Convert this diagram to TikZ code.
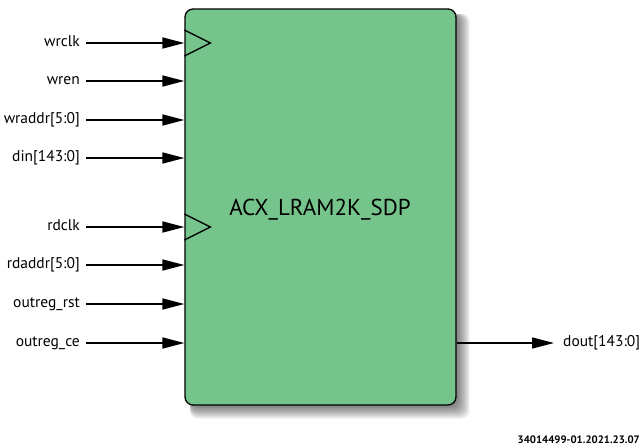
\documentclass[tikz,border=0pt]{standalone}
\usepackage{fontspec}
\setmainfont{PT Sans}
\usetikzlibrary{arrows.meta, positioning, calc}
\definecolor{ramgreen}{RGB}{117,196,139}
\tikzset{
  pinlabel/.style={font=\fontsize{15.5}{18}\selectfont, inner sep=0pt, text height=1.6ex, text depth=.3ex},
  sigarrow/.style={-{Triangle[length=22pt,width=11pt]}, line width=1.7pt},
}
\begin{document}
\begin{tikzpicture}[x=1pt,y=-1pt]
\useasboundingbox (0,0) rectangle (644,447);
% Ombra del blocco
\foreach \s in {1,...,9}{
  \fill[black, opacity=0.07, rounded corners=8pt] (190,14) rectangle (456+1.5*\s, 405+1.5*\s);
}
% Blocco RAM
\node[draw, line width=1.3pt, rounded corners=8pt, fill=ramgreen, minimum width=271pt, minimum height=396pt,
      inner sep=0pt] (ram) at (320.5,207) {};
\node[font=\fontsize{23}{27}\selectfont] (ramname) at (320,210) {ACX\_LRAM2K\_SDP};

% Ingressi
\foreach \y/\n/\txt in {43/wrclk/wrclk, 81/wren/wren, 120/wraddr/wraddr[5:0], 158/din/din[143:0],
    227/rdclk/rdclk, 265/rdaddr/rdaddr[5:0], 304/outregrst/outreg\_rst, 343/outregce/outreg\_ce}{
  \node[pinlabel, anchor=east] (\n) at (80,\y) {\txt};
  \draw[sigarrow] ([xshift=6pt]\n.east) -- (ram.west |- \n.east);
}

% Clock
\foreach \n in {wrclk, rdclk}{
  \draw[line width=1.3pt] ($(ram.west |- \n.east)+(0,-13)$) -- ($(ram.west |- \n.east)+(26,0)$)
    -- ($(ram.west |- \n.east)+(0,13)$);
}

% Uscita
\node[pinlabel, anchor=west] (dout) at (563,343) {dout[143:0]};
\draw[-{Triangle[length=22pt,width=11pt]}, line width=1.3pt] (ram.east |- dout.west) -- ([xshift=-9pt]dout.west);

\node[font=\fontsize{10.8}{13}\selectfont\bfseries, anchor=east, inner sep=0pt] (figid) at (640,440) {34014499-01.2021.23.07};
\end{tikzpicture}
\end{document}
